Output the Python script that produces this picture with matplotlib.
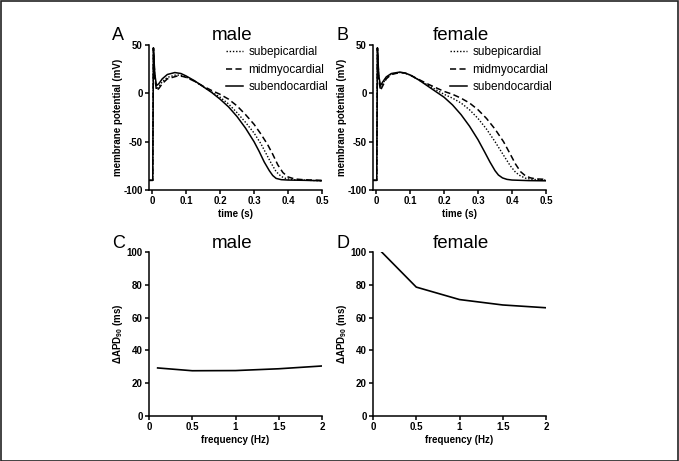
import matplotlib
matplotlib.use("Agg")
import matplotlib.pyplot as plt
from matplotlib.patches import Rectangle

plt.rcParams['font.family'] = ['Liberation Sans', 'DejaVu Sans']
plt.rcParams['mathtext.fontset'] = 'custom'
plt.rcParams['mathtext.rm'] = 'Liberation Sans'
plt.rcParams['mathtext.bf'] = 'Liberation Sans:bold'
plt.rcParams['axes.unicode_minus'] = False

# ---------------- data ----------------
# Male action potentials (time s, membrane potential mV)
male_endo_t = [-0.008, 0.0, 0.002, 0.004, 0.008, 0.013, 0.02, 0.03, 0.045, 0.067, 0.085, 0.1, 0.125, 0.15, 0.175, 0.2, 0.225, 0.25, 0.275, 0.3, 0.315, 0.33, 0.345, 0.355, 0.365, 0.38, 0.4, 0.45, 0.5]
male_endo_v = [-90, -90, -90, 47, 20, 8, 10, 15, 19.5, 21.5, 20.5, 18, 13, 7, 1, -6, -14, -24, -36, -50, -60, -71, -80, -85, -88, -89.3, -89.7, -90, -90.5]
male_epi_t = [-0.008, 0.0, 0.002, 0.004, 0.008, 0.013, 0.02, 0.03, 0.045, 0.07, 0.09, 0.1, 0.125, 0.15, 0.175, 0.2, 0.225, 0.25, 0.275, 0.3, 0.32, 0.335, 0.35, 0.365, 0.38, 0.395, 0.42, 0.5]
male_epi_v = [-90, -90, -90, 47, 18, 4, 7, 12, 16.5, 19, 18.5, 17, 12.5, 7, 1.5, -4, -11, -20, -30, -41, -52, -62, -72, -81, -86, -88.3, -89.4, -90.5]
male_mid_t = [-0.008, 0.0, 0.002, 0.004, 0.008, 0.013, 0.02, 0.03, 0.045, 0.075, 0.09, 0.1, 0.125, 0.15, 0.175, 0.2, 0.225, 0.25, 0.275, 0.3, 0.32, 0.34, 0.355, 0.37, 0.385, 0.4, 0.42, 0.45, 0.5]
male_mid_v = [-90, -90, -90, 47, 16, 3, 5, 10, 15, 18, 17.5, 16.5, 12.5, 7.5, 3, -1, -6, -13, -22, -32, -42, -53, -63, -74, -82, -86.5, -88.6, -89.5, -90]

# Female action potentials
female_endo_t = [-0.008, 0.0, 0.002, 0.004, 0.008, 0.013, 0.02, 0.03, 0.045, 0.07, 0.085, 0.1, 0.125, 0.15, 0.175, 0.2, 0.225, 0.25, 0.275, 0.3, 0.32, 0.335, 0.35, 0.36, 0.372, 0.385, 0.4, 0.45, 0.5]
female_endo_v = [-90, -90, -90, 47, 18, 8, 12, 17, 20.5, 22, 21, 19, 14, 8, 2, -4, -12, -22, -34, -48, -61, -71, -80, -84.5, -87.5, -89, -89.7, -90.3, -90.5]
female_epi_t = [-0.008, 0.0, 0.002, 0.004, 0.008, 0.013, 0.02, 0.03, 0.045, 0.07, 0.085, 0.1, 0.125, 0.15, 0.175, 0.2, 0.225, 0.25, 0.275, 0.3, 0.325, 0.35, 0.375, 0.395, 0.41, 0.425, 0.44, 0.46, 0.5]
female_epi_v = [-90, -90, -90, 47, 16, 6, 10, 16, 20, 21.5, 21, 19, 14, 9, 4, -1, -5, -10, -17, -26, -37, -50, -64, -75, -81.5, -85.5, -87.8, -89, -89.8]
female_mid_t = [-0.008, 0.0, 0.002, 0.004, 0.008, 0.013, 0.02, 0.03, 0.045, 0.07, 0.085, 0.1, 0.125, 0.15, 0.175, 0.2, 0.225, 0.25, 0.275, 0.3, 0.325, 0.35, 0.375, 0.395, 0.41, 0.425, 0.44, 0.455, 0.47, 0.5]
female_mid_v = [-90, -90, -90, 47, 14, 3, 8, 15, 19.5, 21.5, 21, 19, 14.5, 10, 6, 2, -1, -5, -10, -17, -26, -37, -50, -63, -73, -81, -85.5, -87.5, -88.5, -89]

# Delta APD90 vs frequency
freq = [0.1, 0.5, 1.0, 1.5, 2.0]
dapd_male = [29.3, 27.6, 27.7, 28.8, 30.5]
dapd_female = [100.0, 78.6, 71.0, 67.7, 66.0]

legend_labels = ['subepicardial', 'midmyocardial', 'subendocardial']
time_ticks = [0, 0.1, 0.2, 0.3, 0.4, 0.5]
time_ticklabels = ['0', '0.1', '0.2', '0.3', '0.4', '0.5']
vm_ticks = [-100, -50, 0, 50]
freq_ticks = [0, 0.5, 1, 1.5, 2]
freq_ticklabels = ['0', '0.5', '1', '1.5', '2']
apd_ticks = [0, 20, 40, 60, 80, 100]

# ---------------- figure ----------------
W, H = 679, 461
fig = plt.figure(figsize=(W / 100, H / 100), dpi=100)
fig.patches.append(Rectangle((0.5 / W, 0.5 / H), 1 - 1.5 / W, 1 - 1.5 / H, transform=fig.transFigure,
                             fill=False, edgecolor='#222222', linewidth=1.2))


def px_axes(x0, y0, x1, y1):
    return fig.add_axes([x0 / W, 1 - y1 / H, (x1 - x0) / W, (y1 - y0) / H])


def style(ax):
    for s in ['top', 'right']:
        ax.spines[s].set_visible(False)
    for s in ['left', 'bottom']:
        ax.spines[s].set_linewidth(1.1)
    ax.tick_params(direction='out', length=3, width=1.1, labelsize=7, pad=1.5)
    for lab in ax.get_xticklabels() + ax.get_yticklabels():
        lab.set_fontweight('bold')


dot = (0, (1.0, 1.3))
dash = (0, (4.0, 2.2))

axA = px_axes(149, 45, 322, 190)
axB = px_axes(373, 45, 546, 190)
for ax, (et, ev, mt, mv, nt, nv) in [
        (axA, (male_epi_t, male_epi_v, male_mid_t, male_mid_v, male_endo_t, male_endo_v)),
        (axB, (female_epi_t, female_epi_v, female_mid_t, female_mid_v, female_endo_t, female_endo_v))]:
    ax.plot(et, ev, color='black', lw=1.0, linestyle=dot, label=legend_labels[0])
    ax.plot(mt, mv, color='black', lw=1.1, linestyle=dash, label=legend_labels[1])
    ax.plot(nt, nv, color='black', lw=1.1, linestyle='-', label=legend_labels[2])
    ax.set_xlim(-0.009, 0.5)
    ax.set_ylim(-100, 50)
    ax.set_xticks(time_ticks)
    ax.set_xticklabels(time_ticklabels)
    ax.set_yticks(vm_ticks)
    ax.set_xlabel('time (s)', fontsize=7, fontweight='bold', labelpad=2)
    ax.set_ylabel('membrane potential (mV)', fontsize=7, fontweight='bold', labelpad=0)
    style(ax)
    leg = ax.legend(loc='upper left', bbox_to_anchor=(0.445, 0.99), frameon=False, fontsize=8.5,
                    handlelength=1.45, handletextpad=0.45, labelspacing=0.45, borderpad=0, borderaxespad=0)

axC = px_axes(149, 252, 322, 416)
axD = px_axes(373, 252, 546, 416)
for ax, vals in [(axC, dapd_male), (axD, dapd_female)]:
    ax.plot(freq, vals, color='black', lw=1.2)
    ax.set_xlim(0, 2)
    ax.set_ylim(0, 100)
    ax.set_xticks(freq_ticks)
    ax.set_xticklabels(freq_ticklabels)
    ax.set_yticks(apd_ticks)
    ax.set_xlabel('frequency (Hz)', fontsize=7, fontweight='bold', labelpad=2)
    ax.set_ylabel(r'ΔAPD$_{\mathbf{90}}$ (ms)', fontsize=7, fontweight='bold', labelpad=1)
    style(ax)

# panel letters and titles
for letter, x, y in [('A', 112, 36), ('B', 337, 36), ('C', 112, 243), ('D', 337, 243)]:
    fig.text(x / W, 1 - y / H, letter, fontsize=13, ha='left', va='center')
for title, x, y in [('male', 232, 36), ('female', 461, 36), ('male', 232, 243), ('female', 461, 243)]:
    fig.text(x / W, 1 - y / H, title, fontsize=13.5, ha='center', va='center')

fig.savefig('out.png', dpi=100)
